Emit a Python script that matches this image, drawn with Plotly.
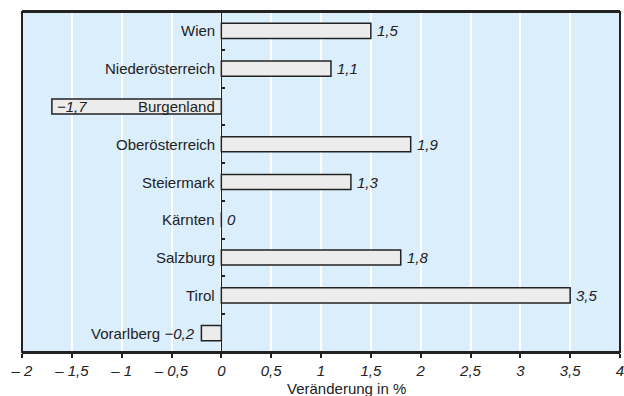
import plotly.graph_objects as go

regions = ["Wien", "Niederösterreich", "Burgenland", "Oberösterreich", "Steiermark",
           "Kärnten", "Salzburg", "Tirol", "Vorarlberg"]
values = [1.5, 1.1, -1.7, 1.9, 1.3, 0.0, 1.8, 3.5, -0.2]
value_labels = ["1,5", "1,1", "−1,7", "1,9", "1,3", "0", "1,8", "3,5", "−0,2"]
x_tickvals = [-2, -1.5, -1, -0.5, 0, 0.5, 1, 1.5, 2, 2.5, 3, 3.5, 4]
x_ticktext = ["– 2", "– 1,5", "– 1", "– 0,5", "0", "0,5", "1", "1,5", "2", "2,5", "3", "3,5", "4"]
x_title = "Veränderung in %"

FONT = "Liberation Sans, Arial, sans-serif"
TXT = "#222222"
FS = 15
n = len(regions)
ypos = list(range(n))

fig = go.Figure()
fig.add_trace(go.Bar(
    x=values, y=ypos, orientation="h", width=0.4,
    marker=dict(color="#ECECEC", line=dict(color="#222222", width=1.5)),
    hoverinfo="skip", showlegend=False,
))

annotations = []
for i, (r, v, t) in enumerate(zip(regions, values, value_labels)):
    f = dict(size=FS, color=TXT, family=FONT)
    if r == "Vorarlberg":
        annotations.append(dict(x=v, y=i, xref="x", yref="y", text=f"{r} <i>{t}</i>",
                                xanchor="right", xshift=-4, showarrow=False, font=f))
    else:
        annotations.append(dict(x=0, y=i, xref="x", yref="y", text=r,
                                xanchor="right", xshift=-4, showarrow=False, font=f))
        annotations.append(dict(x=v, y=i, xref="x", yref="y", text=f"<i>{t}</i>",
                                xanchor="left", xshift=3 if v < 0 else 4,
                                showarrow=False, font=f))

annotations.append(dict(x=0.542, y=-0.106, xref="paper", yref="paper", text=x_title,
                        xanchor="center", yanchor="middle", showarrow=False,
                        font=dict(size=FS, color=TXT, family=FONT)))

fig.update_layout(
    width=624, height=396,
    margin=dict(l=22, r=4, t=12, b=44, autoexpand=False),
    paper_bgcolor="white", plot_bgcolor="#DBEEFC",
    annotations=annotations,
    xaxis=dict(
        range=[-2, 4], tickvals=x_tickvals, ticktext=x_ticktext,
        tickfont=dict(size=FS, color=TXT, family=FONT, style="italic"),
        ticks="outside", ticklen=4, tickcolor=TXT, tickwidth=1.5,
        ticklabeloverflow="allow",
        showgrid=True, gridcolor="white", gridwidth=1.5,
        zeroline=False, showline=True, linecolor=TXT, linewidth=2, mirror=True,
        automargin=False, fixedrange=True,
    ),
    yaxis=dict(
        range=[n - 0.5, -0.5], anchor="free", position=1/3,
        tickvals=[i + 0.5 for i in range(n - 1)], showticklabels=False,
        ticks="inside", ticklen=3, tickcolor=TXT, tickwidth=1.5,
        showgrid=False, zeroline=False, showline=True, linecolor=TXT, linewidth=1.2,
        automargin=False, fixedrange=True,
    ),
    shapes=[dict(type="rect", xref="paper", yref="paper", x0=0, x1=1, y0=0, y1=1,
                 line=dict(color=TXT, width=2), layer="above")],
)

fig.write_html("out.html", config={"displayModeBar": False},
               post_script="document.body.style.margin='0';document.body.style.overflow='hidden';")
